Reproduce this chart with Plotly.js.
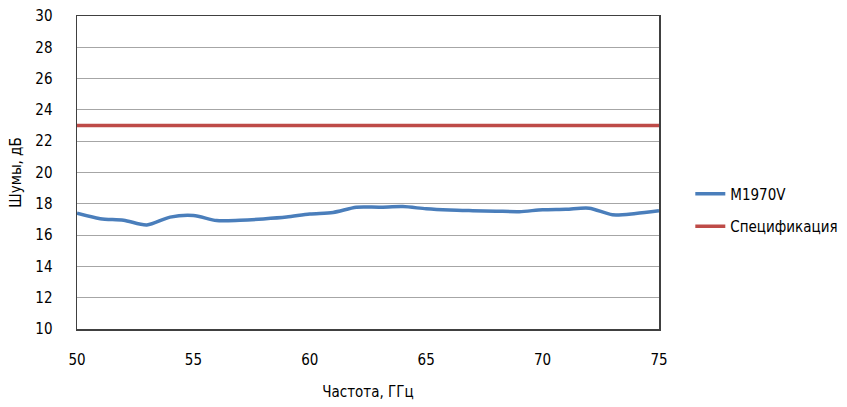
<!DOCTYPE html>
<html>
<head>
<meta charset="utf-8">
<script src="https://cdn.plot.ly/plotly-3.0.1.min.js"></script>
<style>html,body{margin:0;padding:0;background:#fff;}#chart{width:847px;height:407px;}</style>
</head>
<body>
<div id="chart"></div>
<script>
const freq = [50,51,52,53,54,55,56,57,58,59,60,61,62,63,64,65,66,67,68,69,70,71,72,73,74,75];
const m1970v = [17.4,17.05,16.95,16.65,17.15,17.25,16.93,16.95,17.03,17.15,17.35,17.45,17.78,17.78,17.82,17.68,17.6,17.56,17.53,17.5,17.62,17.65,17.72,17.3,17.38,17.55];
const specFreq = [50, 75];
const specValue = [23, 23];
const seriesNames = ["M1970V", "Спецификация"];
const xTicks = [50,55,60,65,70,75];
const yTicks = [10,12,14,16,18,20,22,24,26,28,30];
const FONT = "Liberation Sans Narrow, DejaVu Sans Condensed, Arial Narrow, sans-serif";

const traces = [
  {x: freq, y: m1970v, name: seriesNames[0], type: "scatter", mode: "lines", legendgroup: "a",
   line: {color: "#4a7ebb", width: 3.5, shape: "spline", smoothing: 0.8}},
  {x: specFreq, y: specValue, name: seriesNames[1], type: "scatter", mode: "lines", legendgroup: "b",
   line: {color: "#be4b48", width: 3.5}}
];

const layout = {
  width: 847, height: 407,
  margin: {l: 77, r: 188, t: 16, b: 78, autoexpand: false},
  paper_bgcolor: "#fff", plot_bgcolor: "#fff",
  font: {family: FONT, size: 15, color: "#000"},
  showlegend: true,
  legend: {xref: "container", yref: "container", x: 0.815, y: 0.484, xanchor: "left", yanchor: "middle",
           font: {family: FONT, size: 15, color: "#000"}, traceorder: "grouped",
           tracegroupgap: 10, bgcolor: "rgba(0,0,0,0)"},
  xaxis: {
    range: [50, 75], tickvals: xTicks, ticktext: xTicks.map(String),
    showgrid: false, zeroline: false,
    showline: true, linecolor: "#404040", linewidth: 1.5, mirror: true,
    ticks: "", ticklabelstandoff: 16,
    tickfont: {family: FONT, size: 15, color: "#000"},
    title: {text: "Частота, ГГц", font: {family: FONT, size: 15, color: "#000"}, standoff: 19}
  },
  yaxis: {
    range: [10, 30], tickvals: yTicks, ticktext: yTicks.map(String),
    showgrid: true, gridcolor: "#a6a6a6", gridwidth: 1, zeroline: false,
    showline: true, linecolor: "#404040", linewidth: 1.5, mirror: true,
    ticks: "", ticklabelstandoff: 20,
    tickfont: {family: FONT, size: 15, color: "#000"},
    title: {text: "Шумы, дБ", font: {family: FONT, size: 15, color: "#000"}, standoff: 10}
  }
};

Plotly.newPlot("chart", traces, layout, {displayModeBar: false, staticPlot: true});
</script>
</body>
</html>
